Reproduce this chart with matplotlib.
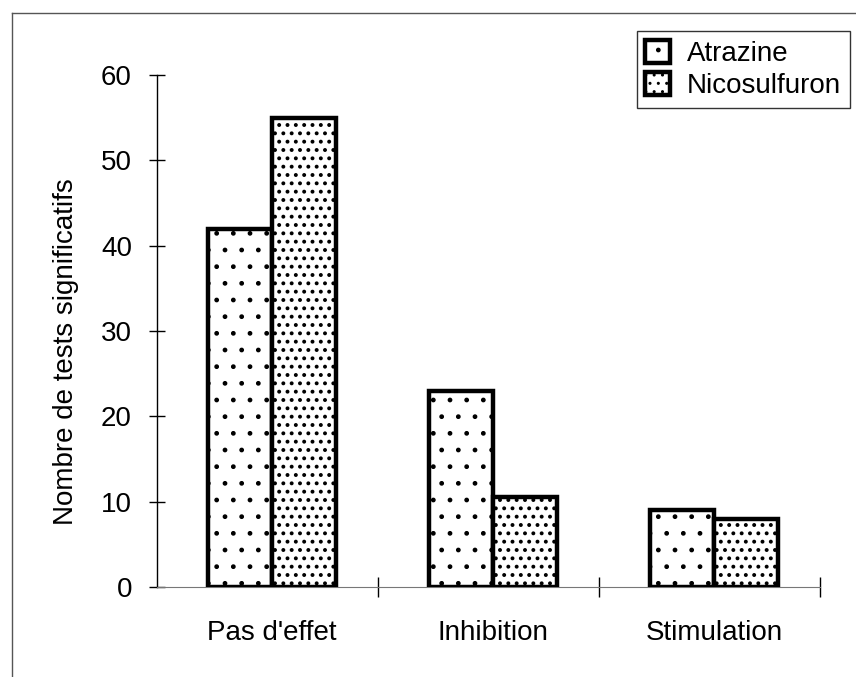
import numpy as np
import matplotlib as mpl
import matplotlib.pyplot as plt
from matplotlib.lines import Line2D

plt.rcParams['font.family'] = ['Liberation Sans', 'DejaVu Sans']

categories = ["Pas d'effet", "Inhibition", "Stimulation"]
atrazine = [42, 23, 9]
nicosulfuron = [55, 10.5, 8]
series_names = ["Atrazine", "Nicosulfuron"]

fig = plt.figure(figsize=(8.56, 6.77), dpi=100)
ax = fig.add_axes([0.1834, 0.133, 0.7746, 0.756])

x = np.arange(len(categories))
w = 0.29
with mpl.rc_context({'hatch.linewidth': 1.0}):
    ax.bar(x - w / 2, atrazine, w, facecolor='white', edgecolor='black',
           linewidth=3.2, hatch='.', label=series_names[0], zorder=3)
with mpl.rc_context({'hatch.linewidth': 1.6}):
    ax.bar(x + w / 2, nicosulfuron, w, facecolor='white', edgecolor='black',
           linewidth=3.2, hatch='..', label=series_names[1], zorder=3)

ax.set_xlim(-0.52, 2.48)
ax.set_ylim(0, 60)
ax.set_yticks([0, 10, 20, 30, 40, 50, 60])
ax.set_xticks(x)
ax.set_xticklabels(categories)
ax.set_xticks([0.48, 1.48, 2.48], minor=True)

ax.tick_params(axis='y', direction='inout', length=12, width=1, labelsize=20, pad=12)
ax.tick_params(axis='x', which='major', length=0, labelsize=20, pad=24)
ax.tick_params(axis='x', which='minor', direction='inout', length=14, width=1)

ax.spines['top'].set_visible(False)
ax.spines['right'].set_visible(False)
ax.spines['bottom'].set_color('#777777')
ax.spines['bottom'].set_linewidth(0.8)
ax.spines['left'].set_linewidth(1)

ax.set_ylabel('Nombre de tests significatifs', fontsize=20)
ax.yaxis.set_label_coords(-0.117, 0.459)

leg = fig.legend(loc='upper right', bbox_to_anchor=(0.999, 0.962),
                 fontsize=20, frameon=True, fancybox=False, edgecolor='black',
                 handlelength=0.9, handleheight=0.9, handletextpad=0.6,
                 borderpad=0.3, labelspacing=0.2, borderaxespad=0.2)
leg.get_frame().set_linewidth(1)

# figure border (top and left visible)
fig.add_artist(Line2D([0.014, 1.0], [0.981, 0.981], color='#555555', lw=1,
                      transform=fig.transFigure))
fig.add_artist(Line2D([0.014, 0.014], [0.0, 0.981], color='#555555', lw=1,
                      transform=fig.transFigure))

fig.savefig('out.png', dpi=100)
